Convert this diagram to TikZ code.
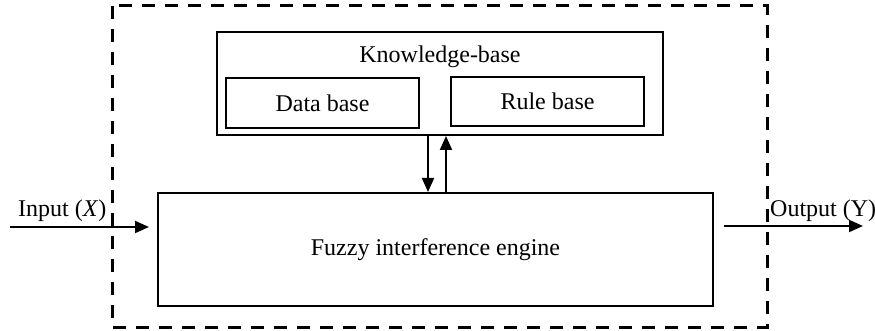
\documentclass[tikz,border=0pt]{standalone}
\usepackage{fontspec}
\setmainfont{Liberation Serif}
\usetikzlibrary{arrows.meta}
\begin{document}
\begin{tikzpicture}[x=1pt,y=-1pt,
  box/.style={draw, line width=2pt, inner sep=0pt},
  lbl/.style={font=\fontsize{24}{28}\selectfont, inner sep=0pt},
  conn/.style={line width=2pt, -{Triangle[length=14pt,width=12pt]}}]
\useasboundingbox (0,0) rectangle (875,331);
\draw[line width=3pt, dash pattern=on 13pt off 10pt] (112,6) rectangle (767,327);
\node[box, minimum width=446pt, minimum height=103pt] (kb) at (440,83.5) {};
\node[lbl] (kbt) at (440,57) {Knowledge-base};
\node[box, lbl, minimum width=193pt, minimum height=50pt] (db) at (322.5,103) {Data base};
\node[box, lbl, minimum width=193pt, minimum height=49pt] (rb) at (547.5,101.5) {Rule base};
\node[box, lbl, minimum width=555pt, minimum height=113pt] (fz) at (435.5,249.5) {Fuzzy interference engine};
\node[lbl, anchor=base west] (inT) at (18,217) {Input (\textit{X})};
\node[lbl, anchor=base west] (outT) at (770,217) {Output (Y)};
\coordinate (inS) at (10,227);
\coordinate (outE) at (863,226);
\draw[conn, shorten >=8pt] (inS) -- (inS -| fz.west);
\draw[conn, shorten <=10pt] (outE -| fz.east) -- (outE);
\draw[conn] ([xshift=-12pt]kb.south) -- ([xshift=-12pt]kb.south |- fz.north);
\draw[conn] ([xshift=6pt]kb.south |- fz.north) -- ([xshift=6pt]kb.south);
\end{tikzpicture}
\end{document}
